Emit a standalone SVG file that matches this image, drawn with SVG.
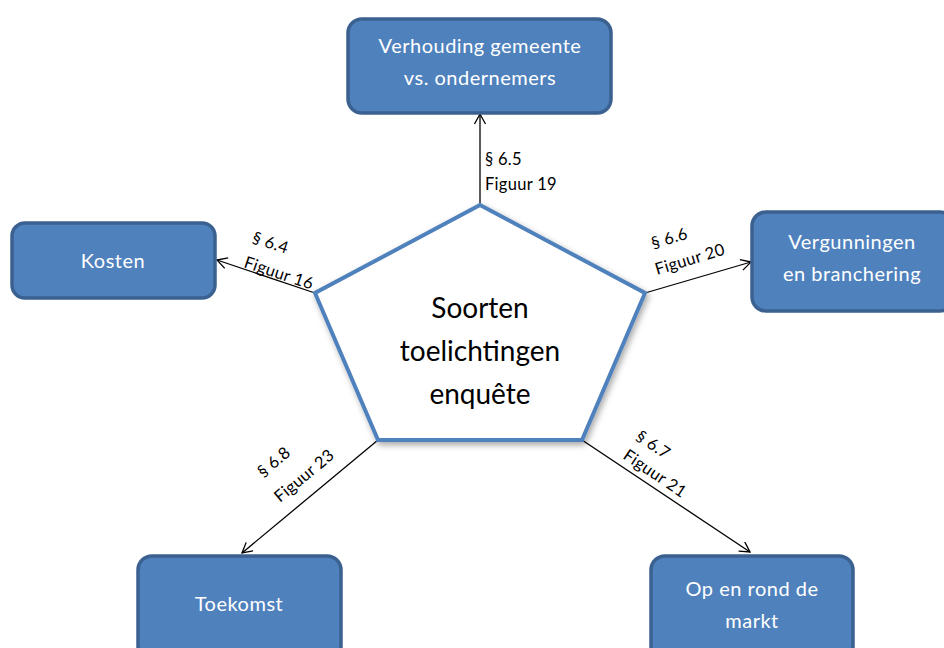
<svg xmlns="http://www.w3.org/2000/svg" width="944" height="648" viewBox="0 0 944 648">
<style>
.box{fill:#4f81bd;stroke:#3b6191;stroke-width:3.5}
.bt{font-family:Lato,"Liberation Sans",sans-serif;font-size:20px;letter-spacing:0.5px;fill:#ffffff;text-anchor:middle}
.lbl{font-family:Lato,"Liberation Sans",sans-serif;font-size:16.5px;letter-spacing:0.3px;fill:#000000}
.ct{font-family:Lato,"Liberation Sans",sans-serif;font-size:28px;fill:#000000;text-anchor:middle}
.con{stroke:#000000;stroke-width:1.3;fill:none;marker-end:url(#arr)}
</style>
<defs>
<marker id="arr" markerUnits="userSpaceOnUse" markerWidth="14" markerHeight="14" refX="11" refY="6" orient="auto">
<path d="M1,0.5 L11,6 L1,11.5" fill="none" stroke="#000000" stroke-width="1.3"/>
</marker>
<filter id="sh" x="-20%" y="-20%" width="140%" height="140%">
<feDropShadow dx="2" dy="3" stdDeviation="3" flood-color="#000000" flood-opacity="0.35"/>
</filter>
</defs>
<rect width="944" height="648" fill="#ffffff"/>

<g id="connectors">
<line class="con" x1="480" y1="205" x2="480" y2="114"/>
<line class="con" x1="315" y1="293" x2="217" y2="260"/>
<line class="con" x1="645" y1="293" x2="751" y2="262"/>
<line class="con" x1="582" y1="440" x2="750" y2="552"/>
<line class="con" x1="378" y1="440" x2="242" y2="553"/>
<g id="lbl-65"><text class="lbl" x="485" y="165">§ 6.5</text><text class="lbl" x="485" y="190">Figuur 19</text></g>
<g id="lbl-64" transform="translate(243,267) rotate(18.4)"><text class="lbl" x="0" y="-26">§ 6.4</text><text class="lbl" x="0" y="0">Figuur 16</text></g>
<g id="lbl-66" transform="translate(657,275) rotate(-16.8)"><text class="lbl" x="4" y="-26">§ 6.6</text><text class="lbl" x="0" y="0">Figuur 20</text></g>
<g id="lbl-67" transform="translate(622,458) rotate(33.9)"><text class="lbl" x="0" y="-23">§ 6.7</text><text class="lbl" x="0" y="0">Figuur 21</text></g>
<g id="lbl-68" transform="translate(280,503) rotate(-39.7)"><text class="lbl" x="3" y="-30">§ 6.8</text><text class="lbl" x="0" y="0">Figuur 23</text></g>
</g>

<g id="center">
<polygon points="480,205 645,293 582,440 378,440 315,293" fill="#ffffff" stroke="#4f81bd" stroke-width="4" filter="url(#sh)"/>
<text class="ct" x="480" y="318">Soorten</text>
<text class="ct" x="480" y="361">toelichtingen</text>
<text class="ct" x="480" y="404">enquête</text>
</g>

<g id="verhouding">
<rect class="box" x="348" y="19" width="263" height="94" rx="14"/>
<text class="bt" x="480" y="53">Verhouding gemeente</text>
<text class="bt" x="480" y="85">vs. ondernemers</text>
</g>
<g id="kosten">
<rect class="box" x="12" y="223" width="203" height="75" rx="13"/>
<text class="bt" x="113" y="268">Kosten</text>
</g>
<g id="vergunningen">
<rect class="box" x="752" y="212" width="202" height="99" rx="14"/>
<text class="bt" x="852" y="249">Vergunningen</text>
<text class="bt" x="852" y="281">en branchering</text>
</g>
<g id="toekomst">
<rect class="box" x="138" y="556" width="203" height="104" rx="14"/>
<text class="bt" x="239" y="611">Toekomst</text>
</g>
<g id="markt">
<rect class="box" x="651" y="556" width="202" height="104" rx="14"/>
<text class="bt" x="752" y="596">Op en rond de</text>
<text class="bt" x="752" y="628">markt</text>
</g>
</svg>
